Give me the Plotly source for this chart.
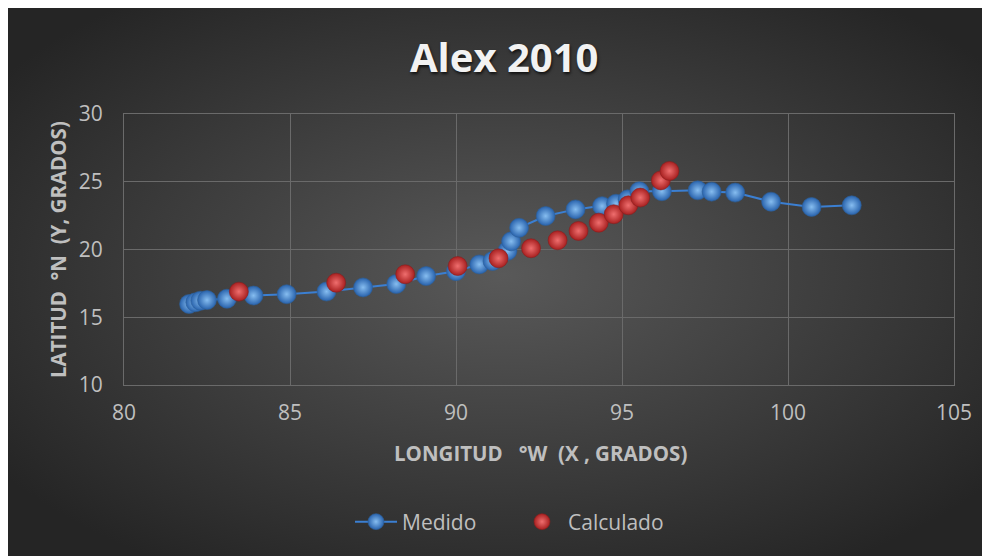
import base64
import plotly.graph_objects as go

# Data (longitude °W, latitude °N)
medido_lon = [81.96, 82.15, 82.3, 82.5, 83.1, 83.9, 84.9, 86.1, 87.2, 88.2, 89.1, 90.0,
              90.7, 91.1, 91.55, 91.66, 91.9, 92.7, 93.6, 94.4, 94.82, 95.17, 95.52,
              96.2, 97.28, 97.7, 98.41, 99.49, 100.71, 101.92]
medido_lat = [15.98, 16.1, 16.22, 16.27, 16.37, 16.6, 16.7, 16.9, 17.2, 17.45, 18.04, 18.4,
              18.9, 19.15, 19.9, 20.6, 21.6, 22.47, 22.96, 23.2, 23.38, 23.7, 24.3,
              24.3, 24.37, 24.27, 24.2, 23.53, 23.14, 23.26]
calc_lon = [83.46, 86.39, 88.47, 90.05, 91.28, 92.26, 93.06, 93.69, 94.3, 94.75,
            95.19, 95.55, 96.17, 96.43]
calc_lat = [16.89, 17.55, 18.17, 18.78, 19.35, 20.09, 20.68, 21.37, 21.98, 22.6,
            23.26, 23.83, 25.1, 25.8]

x_ticks = [80, 85, 90, 95, 100, 105]
y_ticks = [10, 15, 20, 25, 30]

TITLE = "Alex 2010"
X_TITLE = "LONGITUD\u00a0\u00a0\u00a0°W\u00a0\u00a0(X\u00a0,\u00a0GRADOS)"
Y_TITLE = "LATITUD\u00a0\u00a0°N\u00a0\u00a0(Y,\u00a0GRADOS)"

FONT = "Open Sans"
TXT = "#bfbfbf"
GRID = "#6a6a6a"

W, H = 990, 556
OFF = 7  # page offset of the figure on screen

svg = (
    f'<svg xmlns="http://www.w3.org/2000/svg" width="{W}" height="{H}">'
    '<defs><radialGradient id="g" cx="50%" cy="48%" r="62%">'
    '<stop offset="0" stop-color="#595959"/>'
    '<stop offset="1" stop-color="#252525"/>'
    '</radialGradient></defs>'
    f'<rect width="{W}" height="{H}" fill="url(#g)"/></svg>'
)
bg_uri = "data:image/svg+xml;base64," + base64.b64encode(svg.encode()).decode()

# plot area in figure pixels
L, R, T, B = 123 - OFF, 953 - OFF, 113 - OFF, 384 - OFF
PW, PH = R - L, B - T


def px_x(p):  # p is a screen x
    return (p - OFF - L) / PW


def px_y(p):  # p is a screen y
    return (B - (p - OFF)) / PH


fig = go.Figure()
fig.add_trace(go.Scatter(
    x=medido_lon, y=medido_lat, name="Medido", mode="lines+markers",
    line=dict(color="#3b7fd2", width=2),
    marker=dict(size=19, color="#2963ad",
                gradient=dict(type="radial", color="#86bdf0"),
                line=dict(width=0.6, color="#2d5f99")),
))
fig.add_trace(go.Scatter(
    x=calc_lon, y=calc_lat, name="Calculado", mode="markers",
    marker=dict(size=19, color="#a82020",
                gradient=dict(type="radial", color="#ef6e6e"),
                line=dict(width=0.6, color="#8a1f1f")),
))

fig.update_layout(
    width=W, height=H,
    margin=dict(l=L, r=W - R, t=T, b=H - B),
    paper_bgcolor="#333333", plot_bgcolor="rgba(0,0,0,0)",
    font=dict(family=FONT, color=TXT, size=21),
    showlegend=True,
    legend=dict(orientation="h", x=px_x(349), xanchor="left",
                y=px_y(521), yanchor="middle",
                font=dict(family=FONT, size=21, color=TXT),
                bgcolor="rgba(0,0,0,0)", itemwidth=42,
                entrywidth=109, entrywidthmode="pixels"),
    images=[dict(source=bg_uri, xref="paper", yref="paper",
                 x=-L / PW, y=1 + T / PH, sizex=W / PW, sizey=H / PH,
                 xanchor="left", yanchor="top", sizing="stretch", layer="below")],
    annotations=[
        dict(text="<b>" + TITLE + "</b>", xref="paper", yref="paper",
             x=px_x(503), y=px_y(55), showarrow=False,
             font=dict(family=FONT, size=40, color="#f2f2f2",
                       shadow="1px 2px 3px rgba(0,0,0,0.7)"),
             xanchor="center", yanchor="middle"),
        dict(text="<b>" + X_TITLE + "</b>", xref="paper", yref="paper",
             x=px_x(539), y=px_y(452), showarrow=False,
             font=dict(family=FONT, size=20.5, color=TXT),
             xanchor="center", yanchor="middle"),
        dict(text="<b>" + Y_TITLE + "</b>", xref="paper", yref="paper",
             x=px_x(57), y=px_y(249), showarrow=False, textangle=-90,
             font=dict(family=FONT, size=20.5, color=TXT),
             xanchor="center", yanchor="middle"),
    ],
)
fig.update_xaxes(range=[80, 105], tickvals=x_ticks, ticktext=[str(v) for v in x_ticks],
                 showgrid=True, gridcolor=GRID, gridwidth=1,
                 showline=True, mirror=True, linecolor=GRID, linewidth=1,
                 zeroline=False, ticks="", ticklabelstandoff=9,
                 tickfont=dict(family=FONT, size=21, color=TXT))
fig.update_yaxes(range=[10, 30], tickvals=y_ticks, ticktext=[str(v) for v in y_ticks],
                 showgrid=True, gridcolor=GRID, gridwidth=1,
                 showline=True, mirror=True, linecolor=GRID, linewidth=1,
                 zeroline=False, ticks="", ticklabelstandoff=16,
                 tickfont=dict(family=FONT, size=21, color=TXT))

fig.write_html("out.html")
